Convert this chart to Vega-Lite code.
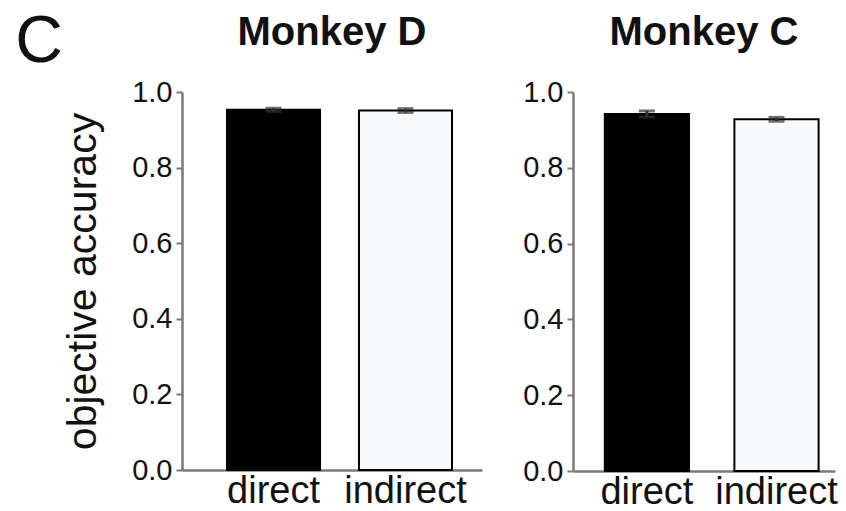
{
  "$schema": "https://vega.github.io/schema/vega-lite/v6.json",
  "background": "white",
  "padding": {"left": 15, "top": 9, "right": 4, "bottom": 0},
  "config": {
    "font": "Liberation Sans",
    "view": {"stroke": null},
    "axis": {"grid": false, "domainColor": "#7a7a7a", "domainWidth": 2.5, "tickColor": "#7a7a7a", "tickWidth": 2, "labelColor": "#111", "titleColor": "#111", "labelFont": "Liberation Sans", "titleFont": "Liberation Sans"},
    "title": {"font": "Liberation Sans", "color": "#111"}
  },
  "title": {"text": "C", "orient": "left", "angle": 0, "anchor": "end", "fontSize": 66, "fontWeight": "normal", "offset": -48, "baseline": "top", "dy": -3},
  "spacing": 40,
  "hconcat": [
    {
      "width": 300,
      "height": 378,
      "title": {"text": "Monkey D", "fontSize": 40, "fontWeight": "bold", "anchor": "middle", "offset": 25},
      "data": {"values": [
        {"condition": "direct", "mean": 0.953, "lo": 0.949, "hi": 0.957},
        {"condition": "indirect", "mean": 0.951, "lo": 0.946, "hi": 0.956}
      ]},
      "encoding": {
        "x": {"field": "condition", "type": "nominal", "sort": ["direct", "indirect"],
          "scale": {"paddingInner": 0.295, "paddingOuter": 0.284, "align": 0.6},
          "axis": {"title": null, "ticks": false, "labelAngle": 0, "labelFontSize": 38, "labelPadding": 2}}
      },
      "layer": [
        {
          "mark": {"type": "bar", "stroke": "black", "strokeWidth": 2},
          "encoding": {
            "y": {"field": "mean", "type": "quantitative", "scale": {"domain": [0, 1]},
              "axis": {"values": [0, 0.2, 0.4, 0.6, 0.8, 1.0], "format": ".1f", "labelFontSize": 29, "tickSize": 6, "labelPadding": 4, "title": "objective accuracy", "titleFontSize": 41, "titleFontWeight": "normal", "titlePadding": 27}},
            "fill": {"field": "condition", "type": "nominal", "scale": {"domain": ["direct", "indirect"], "range": ["#000000", "#f8f9fb"]}, "legend": null}
          }
        },
        {
          "mark": {"type": "errorbar", "color": "#333", "thickness": 3, "ticks": {"size": 16, "thickness": 3, "color": "#333"}},
          "encoding": {
            "y": {"field": "lo", "type": "quantitative", "title": "objective accuracy"},
            "y2": {"field": "hi"}
          }
        }
      ]
    },
    {
      "width": 262,
      "height": 379,
      "title": {"text": "Monkey C", "fontSize": 40, "fontWeight": "bold", "anchor": "middle", "offset": 25},
      "data": {"values": [
        {"condition": "direct", "mean": 0.942, "lo": 0.934, "hi": 0.95},
        {"condition": "indirect", "mean": 0.928, "lo": 0.923, "hi": 0.933}
      ]},
      "encoding": {
        "x": {"field": "condition", "type": "nominal", "sort": ["direct", "indirect"],
          "scale": {"paddingInner": 0.35, "paddingOuter": 0.186, "align": 0.66},
          "axis": {"title": null, "ticks": false, "labelAngle": 0, "labelFontSize": 38, "labelPadding": 2}}
      },
      "layer": [
        {
          "mark": {"type": "bar", "stroke": "black", "strokeWidth": 2},
          "encoding": {
            "y": {"field": "mean", "type": "quantitative", "scale": {"domain": [0, 1]},
              "axis": {"values": [0, 0.2, 0.4, 0.6, 0.8, 1.0], "format": ".1f", "labelFontSize": 29, "tickSize": 6, "labelPadding": 4, "title": null}},
            "fill": {"field": "condition", "type": "nominal", "scale": {"domain": ["direct", "indirect"], "range": ["#000000", "#f8f9fb"]}, "legend": null}
          }
        },
        {
          "mark": {"type": "errorbar", "color": "#333", "thickness": 3, "ticks": {"size": 16, "thickness": 3, "color": "#333"}},
          "encoding": {
            "y": {"field": "lo", "type": "quantitative", "title": null},
            "y2": {"field": "hi"}
          }
        }
      ]
    }
  ]
}
